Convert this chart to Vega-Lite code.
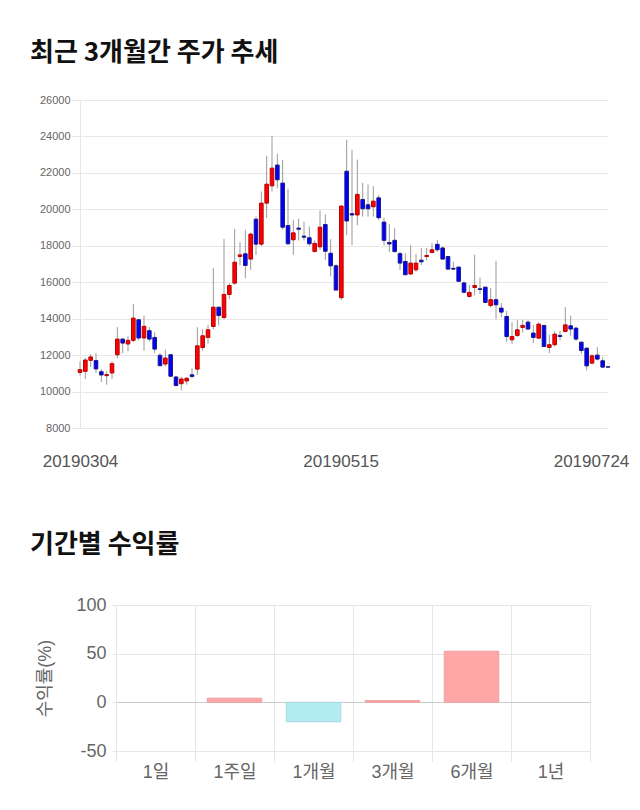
{
  "$schema": "https://vega.github.io/schema/vega-lite/v6.json",
  "padding": {"left": 30, "top": 40, "right": 0, "bottom": 0},
  "background": "white",
  "config": {
    "view": {"stroke": null},
    "font": "'Liberation Sans', 'Noto Sans CJK KR', sans-serif"
  },
  "spacing": 63,
  "vconcat": [
    {
      "title": {"text": "최근 3개월간 주가 추세", "anchor": "start", "frame": "group", "dx": -86, "fontSize": 26, "fontWeight": "bold", "color": "#111111", "font": "'Noto Sans CJK KR', sans-serif", "offset": 28},
      "width": 492,
      "height": 328,
      "data": {"values": [
        {"date": "20190304", "open": 11050, "high": 11658, "low": 10872, "close": 11200},
        {"date": "20190305", "open": 11110, "high": 11840, "low": 10690, "close": 11730},
        {"date": "20190306", "open": 11713, "high": 12060, "low": 11350, "close": 11900},
        {"date": "20190307", "open": 11700, "high": 12100, "low": 11020, "close": 11240},
        {"date": "20190308", "open": 11090, "high": 11240, "low": 10525, "close": 10910},
        {"date": "20190311", "open": 10870, "high": 11110, "low": 10380, "close": 10930},
        {"date": "20190312", "open": 11020, "high": 11660, "low": 10690, "close": 11530},
        {"date": "20190313", "open": 12020, "high": 13540, "low": 11820, "close": 12880},
        {"date": "20190314", "open": 12880, "high": 12940, "low": 12110, "close": 12660},
        {"date": "20190315", "open": 12610, "high": 13060, "low": 12210, "close": 12810},
        {"date": "20190318", "open": 12810, "high": 14820, "low": 12700, "close": 14030},
        {"date": "20190319", "open": 13940, "high": 13980, "low": 12810, "close": 12940},
        {"date": "20190320", "open": 12940, "high": 14170, "low": 12240, "close": 13580},
        {"date": "20190321", "open": 13340, "high": 13540, "low": 12750, "close": 12880},
        {"date": "20190322", "open": 12970, "high": 13250, "low": 12110, "close": 12330},
        {"date": "20190325", "open": 11990, "high": 12110, "low": 11380, "close": 11420},
        {"date": "20190326", "open": 11510, "high": 12300, "low": 11380, "close": 11840},
        {"date": "20190327", "open": 12020, "high": 12060, "low": 10800, "close": 10840},
        {"date": "20190328", "open": 10800, "high": 10870, "low": 10290, "close": 10330},
        {"date": "20190329", "open": 10430, "high": 10800, "low": 10070, "close": 10690},
        {"date": "20190401", "open": 10580, "high": 10800, "low": 10380, "close": 10730},
        {"date": "20190402", "open": 10920, "high": 11280, "low": 10730, "close": 10830},
        {"date": "20190403", "open": 11230, "high": 13530, "low": 10920, "close": 12510},
        {"date": "20190404", "open": 12420, "high": 13420, "low": 12250, "close": 13060},
        {"date": "20190405", "open": 12970, "high": 13660, "low": 12620, "close": 13390},
        {"date": "20190408", "open": 13570, "high": 16770, "low": 13420, "close": 14630},
        {"date": "20190409", "open": 14630, "high": 14670, "low": 13620, "close": 14170},
        {"date": "20190410", "open": 14060, "high": 18380, "low": 13970, "close": 15330},
        {"date": "20190411", "open": 15330, "high": 15950, "low": 15070, "close": 15820},
        {"date": "20190412", "open": 15950, "high": 18930, "low": 15860, "close": 17100},
        {"date": "20190415", "open": 17410, "high": 18200, "low": 16920, "close": 17500},
        {"date": "20190416", "open": 17560, "high": 18880, "low": 16220, "close": 16920},
        {"date": "20190417", "open": 17270, "high": 18730, "low": 16680, "close": 18640},
        {"date": "20190418", "open": 19460, "high": 19610, "low": 17500, "close": 18090},
        {"date": "20190419", "open": 18090, "high": 20980, "low": 17960, "close": 20340},
        {"date": "20190422", "open": 20340, "high": 22940, "low": 19520, "close": 21380},
        {"date": "20190423", "open": 21290, "high": 24040, "low": 20980, "close": 22260},
        {"date": "20190424", "open": 22430, "high": 23050, "low": 21160, "close": 21620},
        {"date": "20190425", "open": 21440, "high": 22720, "low": 18880, "close": 19020},
        {"date": "20190426", "open": 19110, "high": 21130, "low": 18050, "close": 18110},
        {"date": "20190429", "open": 18330, "high": 19430, "low": 17500, "close": 18710},
        {"date": "20190430", "open": 18970, "high": 19480, "low": 18290, "close": 18910},
        {"date": "20190502", "open": 18530, "high": 19320, "low": 18290, "close": 18470},
        {"date": "20190503", "open": 18440, "high": 19060, "low": 18000, "close": 18110},
        {"date": "20190507", "open": 17690, "high": 18290, "low": 17630, "close": 18130},
        {"date": "20190508", "open": 17940, "high": 19940, "low": 17780, "close": 19020},
        {"date": "20190509", "open": 19170, "high": 19720, "low": 17230, "close": 17700},
        {"date": "20190510", "open": 17590, "high": 18360, "low": 16320, "close": 16900},
        {"date": "20190513", "open": 16900, "high": 16990, "low": 15540, "close": 15570},
        {"date": "20190514", "open": 15150, "high": 20210, "low": 15040, "close": 20180},
        {"date": "20190515", "open": 22090, "high": 23820, "low": 18580, "close": 19360},
        {"date": "20190516", "open": 19760, "high": 23270, "low": 18030, "close": 19690},
        {"date": "20190517", "open": 19690, "high": 22730, "low": 19120, "close": 20820},
        {"date": "20190520", "open": 20540, "high": 21450, "low": 19600, "close": 20030},
        {"date": "20190521", "open": 20250, "high": 21360, "low": 19600, "close": 20030},
        {"date": "20190522", "open": 20140, "high": 21270, "low": 19600, "close": 20450},
        {"date": "20190523", "open": 20630, "high": 20780, "low": 19410, "close": 19540},
        {"date": "20190524", "open": 19300, "high": 19540, "low": 18030, "close": 18300},
        {"date": "20190527", "open": 18180, "high": 19180, "low": 17670, "close": 18100},
        {"date": "20190528", "open": 18300, "high": 18960, "low": 17630, "close": 17680},
        {"date": "20190529", "open": 17570, "high": 17670, "low": 16670, "close": 17050},
        {"date": "20190530", "open": 17140, "high": 17590, "low": 16390, "close": 16410},
        {"date": "20190531", "open": 16450, "high": 18050, "low": 16410, "close": 17050},
        {"date": "20190603", "open": 16680, "high": 17540, "low": 16570, "close": 17050},
        {"date": "20190604", "open": 17210, "high": 17870, "low": 16940, "close": 17120},
        {"date": "20190605", "open": 17410, "high": 17870, "low": 17210, "close": 17470},
        {"date": "20190607", "open": 17630, "high": 18140, "low": 17590, "close": 17780},
        {"date": "20190610", "open": 18080, "high": 18320, "low": 17670, "close": 17780},
        {"date": "20190611", "open": 17880, "high": 17960, "low": 17230, "close": 17270},
        {"date": "20190612", "open": 17410, "high": 17450, "low": 16670, "close": 16720},
        {"date": "20190613", "open": 16760, "high": 17120, "low": 16670, "close": 16720},
        {"date": "20190614", "open": 16830, "high": 16850, "low": 16030, "close": 16050},
        {"date": "20190617", "open": 15960, "high": 16050, "low": 15390, "close": 15450},
        {"date": "20190618", "open": 15220, "high": 15860, "low": 15160, "close": 15440},
        {"date": "20190619", "open": 15710, "high": 17510, "low": 15270, "close": 15820},
        {"date": "20190620", "open": 15640, "high": 16260, "low": 15350, "close": 15600},
        {"date": "20190621", "open": 15730, "high": 15770, "low": 14850, "close": 14890},
        {"date": "20190624", "open": 14720, "high": 15680, "low": 14610, "close": 15040},
        {"date": "20190625", "open": 15040, "high": 17180, "low": 13970, "close": 14760},
        {"date": "20190626", "open": 14580, "high": 14850, "low": 14080, "close": 14360},
        {"date": "20190627", "open": 14120, "high": 14430, "low": 12710, "close": 13020},
        {"date": "20190628", "open": 12840, "high": 13810, "low": 12620, "close": 13020},
        {"date": "20190701", "open": 13080, "high": 13940, "low": 12990, "close": 13390},
        {"date": "20190702", "open": 13520, "high": 13940, "low": 13240, "close": 13630},
        {"date": "20190703", "open": 13810, "high": 13940, "low": 13390, "close": 13430},
        {"date": "20190704", "open": 13210, "high": 13660, "low": 12660, "close": 12970},
        {"date": "20190705", "open": 12930, "high": 13790, "low": 12880, "close": 13700},
        {"date": "20190708", "open": 13630, "high": 13660, "low": 12440, "close": 12470},
        {"date": "20190709", "open": 12420, "high": 13110, "low": 12110, "close": 12570},
        {"date": "20190710", "open": 12570, "high": 13300, "low": 12470, "close": 13150},
        {"date": "20190711", "open": 13080, "high": 13330, "low": 12800, "close": 13020},
        {"date": "20190712", "open": 13300, "high": 14630, "low": 13260, "close": 13660},
        {"date": "20190715", "open": 13610, "high": 14160, "low": 13060, "close": 13430},
        {"date": "20190716", "open": 13480, "high": 13570, "low": 12790, "close": 12880},
        {"date": "20190717", "open": 12710, "high": 12750, "low": 12070, "close": 12250},
        {"date": "20190718", "open": 12380, "high": 12420, "low": 11160, "close": 11410},
        {"date": "20190719", "open": 11560, "high": 12070, "low": 11500, "close": 11960},
        {"date": "20190722", "open": 12000, "high": 12440, "low": 11700, "close": 11780},
        {"date": "20190723", "open": 11690, "high": 11870, "low": 11280, "close": 11340},
        {"date": "20190724", "open": 11360, "high": 11380, "low": 11300, "close": 11340}
      ]},
      "encoding": {
        "x": {
          "field": "date", "type": "ordinal", "sort": null,
          "scale": {"type": "point", "padding": 0, "range": [-36, 492]},
          "axis": {
            "values": ["20190304", "20190515", "20190724"],
            "labelAngle": 0, "ticks": false, "tickSize": 0, "domain": false, "grid": false,
            "labelFontSize": 17, "labelColor": "#555555", "labelPadding": 25, "title": null,
            "labelOffset": {"condition": [{"test": "datum.value === '20190724'", "value": -17}, {"test": "datum.value === '20190515'", "value": -6}], "value": 0}
          }
        }
      },
      "layer": [
        {
          "mark": {"type": "rule", "color": "#9a9a9a", "strokeWidth": 1},
          "encoding": {
            "y": {
              "field": "low", "type": "quantitative",
              "scale": {"domain": [8000, 26000], "nice": false, "zero": false},
              "axis": {
                "values": [8000, 10000, 12000, 14000, 16000, 18000, 20000, 22000, 24000, 26000],
                "offset": 36, "format": "d", "labelOverlap": false, "tickSize": 8, "tickColor": "#e6e6e6", "domainColor": "#e6e6e6",
                "gridColor": "#e8e8e8", "labelFontSize": 11, "labelColor": "#666666",
                "labelPadding": 2, "title": null
              }
            },
            "y2": {"field": "high"}
          }
        },
        {
          "mark": {"type": "bar", "size": 3.6, "strokeWidth": 1},
          "encoding": {
            "y": {
              "field": "open", "type": "quantitative",
              "scale": {"domain": [8000, 26000], "nice": false, "zero": false},
              "axis": {
                "values": [8000, 10000, 12000, 14000, 16000, 18000, 20000, 22000, 24000, 26000],
                "offset": 36, "format": "d", "labelOverlap": false, "tickSize": 8, "tickColor": "#e6e6e6", "domainColor": "#e6e6e6",
                "gridColor": "#e8e8e8", "labelFontSize": 11, "labelColor": "#666666",
                "labelPadding": 2, "title": null
              }
            },
            "y2": {"field": "close"},
            "fill": {"condition": {"test": "datum.close >= datum.open", "value": "#ff0000"}, "value": "#0000ff"},
            "stroke": {"condition": {"test": "datum.close >= datum.open", "value": "#b80000"}, "value": "#1a1a80"}
          }
        }
      ]
    },
    {
      "title": {"text": "기간별 수익률", "anchor": "start", "frame": "group", "dx": -86, "fontSize": 26, "fontWeight": "bold", "color": "#111111", "font": "'Noto Sans CJK KR', sans-serif", "offset": 38},
      "width": 474,
      "height": 146,
      "data": {"values": [
        {"period": "1일", "ret": 0},
        {"period": "1주일", "ret": 4.3},
        {"period": "1개월", "ret": -20},
        {"period": "3개월", "ret": 1.8},
        {"period": "6개월", "ret": 52.5},
        {"period": "1년", "ret": 0}
      ]},
      "mark": {"type": "bar", "width": {"band": 0.69}, "strokeWidth": 1},
      "encoding": {
        "x": {
          "field": "period", "type": "nominal", "sort": null,
          "scale": {"paddingInner": 0, "paddingOuter": 0},
          "axis": {
            "labelAngle": 0, "tickBand": "extent", "grid": true, "gridColor": "#e6e6e6",
            "tickSize": 11, "tickColor": "#e6e6e6", "domain": false,
            "labelFontSize": 18, "labelColor": "#666666", "labelPadding": 1, "title": null
          }
        },
        "y": {
          "field": "ret", "type": "quantitative",
          "scale": {"domain": [-50, 100], "nice": false},
          "axis": {
            "values": [-50, 0, 50, 100], "labelExpr": "'' + datum.value", "labelOverlap": false, "tickSize": 4, "tickColor": "#e6e6e6", "domain": false,
            "gridColor": {"condition": {"test": "datum.value === 0", "value": "#cccccc"}, "value": "#e6e6e6"},
            "labelFontSize": 18, "labelColor": "#666666", "labelPadding": 6,
            "title": "수익률(%)", "titleFontSize": 18, "titleFontWeight": "normal", "titleColor": "#666666", "titlePadding": 21
          }
        },
        "fill": {"condition": {"test": "datum.ret >= 0", "value": "#ffa6a6"}, "value": "#b2ebf2"},
        "stroke": {"condition": {"test": "datum.ret >= 0", "value": "#eba2a2"}, "value": "#a6d8e0"},
        "strokeOpacity": {"condition": {"test": "datum.ret === 0", "value": 0}, "value": 1}
      }
    }
  ]
}
